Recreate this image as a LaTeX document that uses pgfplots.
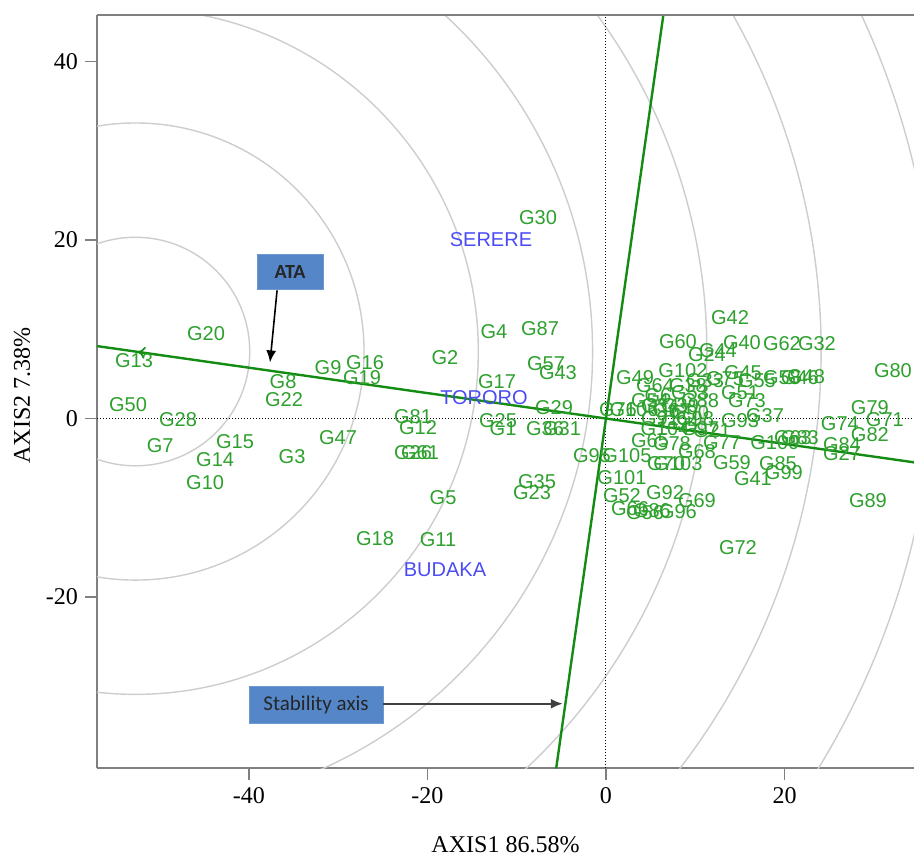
\documentclass[border=0pt]{standalone}
\usepackage{pgfplots}
\usepackage{pgfplotstable}
\pgfplotsset{compat=1.18}
\usetikzlibrary{arrows.meta}
\usepackage{fontspec}
\setmainfont{Liberation Serif}
\newfontfamily\arialf{Liberation Sans}
\newfontfamily\calibf{Carlito}
\definecolor{glab}{RGB}{45,160,45}
\definecolor{gline}{RGB}{20,140,20}
\definecolor{envblue}{RGB}{75,75,245}
\definecolor{boxblue}{RGB}{85,135,200}
\definecolor{circgray}{RGB}{205,205,205}
\definecolor{framegray}{RGB}{128,128,128}

\pgfplotstableread{
x y label
-44.79 9.53 G20
-52.86 6.50 G13
-53.53 1.57 G50
-47.93 -0.11 G28
-49.94 -3.03 G7
-41.55 -2.58 G15
-43.78 -4.60 G14
-44.90 -7.17 G10
-35.16 -4.26 G3
-30.01 -2.13 G47
-36.17 4.15 G8
-36.06 2.13 G22
-31.13 5.72 G9
-26.99 6.28 G16
-27.32 4.60 G19
-18.03 6.84 G2
-21.61 0.22 G81
-21.05 -1.01 G12
-21.61 -3.81 G26
-20.83 -3.81 G61
-12.54 9.75 G4
-7.39 10.09 G87
-7.61 22.53 G30
-6.72 6.17 G57
-5.38 5.16 G43
-12.21 4.15 G17
-5.82 1.23 G29
-12.09 -0.22 G25
-11.53 -1.12 G1
-6.83 -1.12 G36
-4.93 -1.12 G31
-7.73 -7.06 G35
-8.29 -8.30 G23
-18.25 -8.86 G5
-25.87 -13.45 G18
-18.81 -13.57 G11
13.89 11.32 G42
8.06 8.63 G60
15.23 8.52 G40
19.71 8.41 G62
23.63 8.41 G32
11.31 7.17 G24
12.54 7.62 G44
32.14 5.38 G80
3.25 4.60 G49
8.62 5.38 G102
11.09 4.26 G33
13.33 4.48 G75
16.91 4.26 G55
15.34 5.16 G45
19.71 4.60 G58
21.72 4.60 G46
22.40 4.71 G48
15.01 2.91 G51
10.53 2.02 G88
15.79 2.02 G73
1.34 1.01 G76
3.14 1.01 G106
17.81 0.34 G37
15.01 -0.22 G93
20.94 -2.13 G63
21.72 -2.13 G83
18.92 -2.69 G100
26.20 -0.56 G74
29.56 1.23 G79
31.24 -0.11 G71
29.56 -1.79 G82
26.43 -2.91 G84
26.43 -3.92 G27
14.11 -4.93 G59
19.26 -5.04 G85
16.46 -6.73 G41
19.93 -6.05 G99
29.34 -9.19 G89
1.79 -6.61 G101
-1.57 -4.15 G95
2.35 -4.15 G105
4.93 -2.47 G65
7.39 -2.80 G78
10.19 -3.70 G68
12.99 -2.69 G77
6.72 -5.04 G70
8.06 -5.04 G103
1.79 -8.63 G52
6.61 -8.30 G92
10.19 -9.19 G69
2.69 -10.09 G66
4.37 -10.54 G56
5.15 -10.31 G86
8.06 -10.43 G96
14.78 -14.46 G72
5.82 2.58 G6
6.05 1.46 G34
8.29 1.46 G39
4.93 2.02 G54
7.39 0.90 G67
9.41 0.67 G90
6.05 0.00 G91
8.29 -0.45 G94
10.53 -1.12 G97
9.97 0.00 G98
6.61 -1.12 G104
9.41 2.91 G53
5.49 3.70 G64
9.18 3.70 G38
11.87 -1.35 G21
}\genos

\pgfplotstableread{
x y label
-12.88 20.07 SERERE
-13.66 2.35 TORORO
-18.03 -16.93 BUDAKA
}\envs

\begin{document}
\begin{tikzpicture}
\useasboundingbox (-48.5pt,-43.5pt) rectangle (408.1pt,383.9pt);
\begin{axis}[
  name=ax, at={(0,0)}, anchor=south west,
  x=4.46pt, y=4.46pt,
  xmin=-57, xmax=34.5, ymin=-39.2, ymax=45.2,
  axis x line*=bottom, axis y line*=left,
  axis line style={framegray, line width=1pt},
  tick align=outside, major tick length=6pt,
  tick style={framegray, line width=0.8pt},
  xtick={-40,-20,0,20}, ytick={-20,0,20,40},
  minor tick num=0,
  ticklabel style={font=\fontsize{12}{14}\selectfont},
  /pgf/number format/assume math mode=true,
  xlabel={AXIS1 86.58\%}, ylabel={AXIS2 7.38\%},
  every axis x label/.style={at={(rel axis cs:0.5,0)}, anchor=center, yshift=-38pt, font=\fontsize{12}{14}\selectfont},
  every axis y label/.style={at={(rel axis cs:0,0.495)}, anchor=center, rotate=90, yshift=37.5pt, font=\fontsize{12}{14}\selectfont},
  clip=true,
]
\pgfplotsinvokeforeach{12.8,25.6,38.4,51.2,64,76.8,89.6}{
  \draw[circgray, line width=0.7pt] (axis cs:-52.7,7.5) circle[radius=#1];
}
\addplot[black, densely dotted, line width=0.5pt] coordinates {(0,-39.2) (0,45.2)};
\addplot[black, densely dotted, line width=0.5pt] coordinates {(-57,0) (34.5,0)};
\addplot[gline, line width=1.2pt] coordinates {(-57,8.11) (34.5,-4.91)};
\addplot[gline, line width=0.8pt, -{To[length=4pt,width=6pt]}] coordinates {(-50,7.11) (-52.5,7.47)};
\addplot[gline, line width=1.2pt] coordinates {(6.43,45.2) (-5.58,-39.2)};
\addplot[draw=none, nodes near coords, point meta=explicit symbolic,
  every node near coord/.append style={anchor=center, inner sep=0pt, text=glab, font=\arialf\fontsize{10}{12}\selectfont}]
  table[meta=label] {\genos};
\addplot[draw=none, nodes near coords, point meta=explicit symbolic,
  every node near coord/.append style={anchor=center, inner sep=0pt, text=envblue, font=\arialf\fontsize{10}{12}\selectfont}]
  table[meta=label] {\envs};
\node[fill=boxblue, draw=boxblue!85!white, minimum width=33pt, minimum height=17.5pt, inner sep=0pt, font=\calibf\bfseries\fontsize{10}{12}\selectfont, text=black!85] at (axis cs:-35.39,16.37) {ATA};
\draw[-{Latex[length=6pt,width=5pt]}, black, line width=0.8pt] (axis cs:-36.84,14.35) -- (axis cs:-37.63,6.28);
\node[fill=boxblue, draw=boxblue!85!white, minimum width=67pt, minimum height=18.5pt, inner sep=0pt, font=\calibf\fontsize{10.5}{12}\selectfont, text=black!85] at (axis cs:-32.47,-32.06) {Stability axis};
\draw[-{Latex[length=6pt,width=5pt]}, black!75, line width=1.2pt] (axis cs:-24.97,-31.95) -- (axis cs:-4.82,-31.95);
\end{axis}
\draw[framegray, line width=1pt] (ax.north west) -- (ax.north east);
\end{tikzpicture}
\end{document}
